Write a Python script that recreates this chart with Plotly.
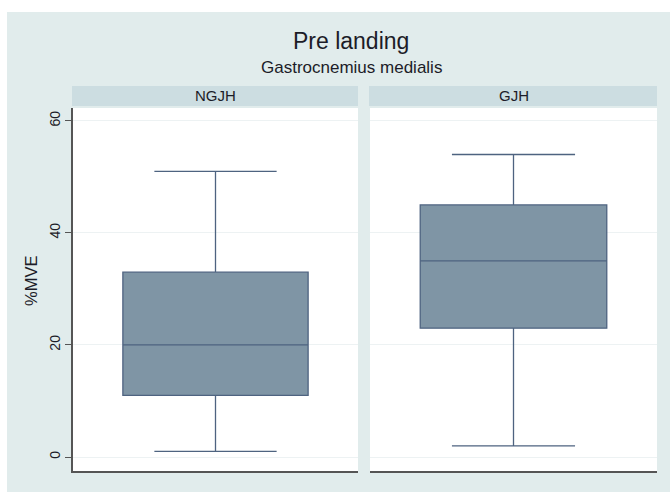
import plotly.graph_objects as go

W, H = 670, 492

groups = ["NGJH", "GJH"]
lower_whisker = [1, 2]
q1_vals = [11, 23]
medians = [20, 35]
q3_vals = [33, 45]
upper_whisker = [51, 54]
y_ticks = [0, 20, 40, 60]

title = "Pre landing"
subtitle = "Gastrocnemius medialis"
y_title = "%MVE"

def px(x):
    return x / W

def py(y):
    return 1 - y / H

BG = "#E1ECEC"
HEADER = "#CCDDE1"
BOX_FILL = "#7F95A5"
BOX_LINE = "#4E6380"
GRID = "#EDF2F3"
AXIS = "#555555"
TXT = "#1c1c28"
FONT = "Liberation Sans, Arial, sans-serif"

panels_x = [(73, 358), (370, 657)]
plot_top, plot_bottom = 108, 471
header_top, header_bottom = 86, 106

fig = go.Figure()

for i, g in enumerate(groups):
    xa = "x" if i == 0 else "x2"
    ya = "y" if i == 0 else "y2"
    fig.add_trace(go.Box(
        x=[g], q1=[q1_vals[i]], median=[medians[i]], q3=[q3_vals[i]],
        lowerfence=[lower_whisker[i]], upperfence=[upper_whisker[i]],
        xaxis=xa, yaxis=ya, fillcolor=BOX_FILL,
        line=dict(color=BOX_LINE, width=1.3),
        whiskerwidth=0.66, width=0.65, boxpoints=False,
        hoverinfo="skip", showlegend=False,
    ))

yr = [-2.5, 62.3]
common_x = dict(showticklabels=False, ticks="", showgrid=False, zeroline=False,
                range=[-0.5, 0.5], showline=True, linecolor=AXIS, linewidth=1.5,
                fixedrange=True)
fig.update_layout(
    width=W, height=H,
    margin=dict(l=0, r=0, t=0, b=0),
    paper_bgcolor="white", plot_bgcolor="rgba(0,0,0,0)",
    font=dict(family=FONT, color=TXT),
    xaxis=dict(domain=[px(panels_x[0][0]), px(panels_x[0][1])], anchor="y",
               categoryorder="array", categoryarray=[groups[0]], **common_x),
    xaxis2=dict(domain=[px(panels_x[1][0]), px(panels_x[1][1])], anchor="y2",
                categoryorder="array", categoryarray=[groups[1]], **common_x),
    yaxis=dict(domain=[py(plot_bottom), py(plot_top)], range=yr, anchor="x",
               tickvals=y_ticks, ticks="outside", ticklen=6, tickcolor=AXIS,
               tickangle=-90, tickfont=dict(size=14, color=TXT),
               showline=True, linecolor=AXIS, linewidth=1.5,
               showgrid=True, gridcolor=GRID, gridwidth=1.2, zeroline=False),
    yaxis2=dict(domain=[py(plot_bottom), py(plot_top)], range=yr, anchor="x2",
                tickvals=y_ticks, showticklabels=False, ticks="",
                showline=False, showgrid=True, gridcolor=GRID, gridwidth=1.2,
                zeroline=False),
)

shapes = [dict(type="rect", xref="paper", yref="paper", x0=px(7), x1=1,
               y0=0, y1=py(12), fillcolor=BG, line=dict(width=0), layer="below")]
for (a, b) in panels_x:
    shapes.append(dict(type="rect", xref="paper", yref="paper", x0=px(a), x1=px(b),
                       y0=py(plot_bottom), y1=py(plot_top), fillcolor="white",
                       line=dict(width=0), layer="below"))
    shapes.append(dict(type="rect", xref="paper", yref="paper", x0=px(a - 1), x1=px(b),
                       y0=py(header_bottom), y1=py(header_top), fillcolor=HEADER,
                       line=dict(width=0), layer="below"))
fig.update_layout(shapes=shapes)

ann = [
    dict(text=title, x=px(351), y=py(41), xref="paper", yref="paper",
         showarrow=False, font=dict(size=23, color=TXT), xanchor="center", yanchor="middle"),
    dict(text=subtitle, x=px(351), y=py(68), xref="paper", yref="paper",
         showarrow=False, font=dict(size=17, color=TXT), xanchor="center", yanchor="middle"),
    dict(text=y_title, x=px(31), y=py(281), xref="paper", yref="paper", textangle=-90,
         showarrow=False, font=dict(size=16.5, color=TXT), xanchor="center", yanchor="middle"),
]
for (a, b), g in zip(panels_x, groups):
    ann.append(dict(text=g, x=px((a + b) / 2), y=py(96), xref="paper", yref="paper",
                    showarrow=False, font=dict(size=15, color=TXT),
                    xanchor="center", yanchor="middle"))
fig.update_layout(annotations=ann)

fig.write_html("out.html")
